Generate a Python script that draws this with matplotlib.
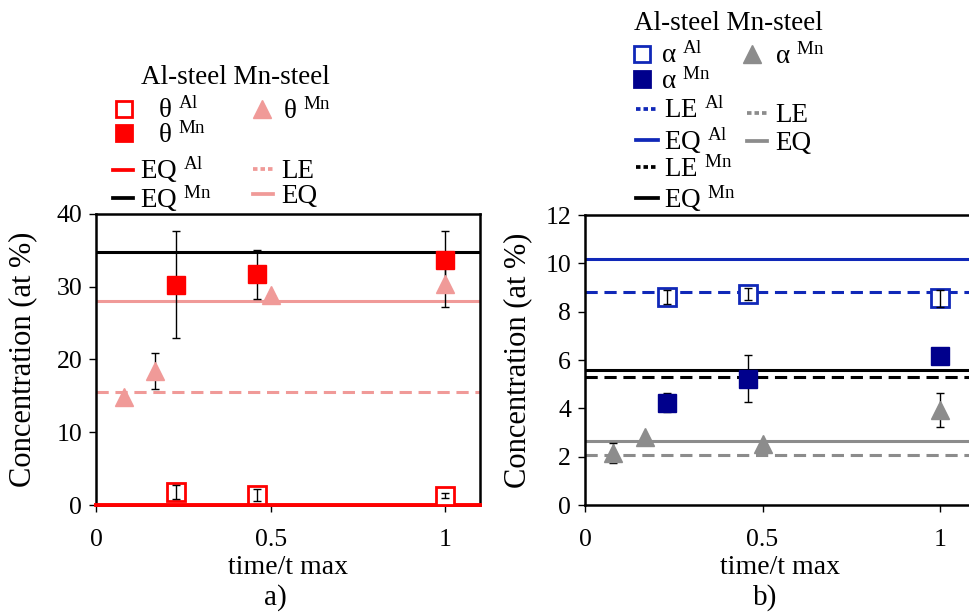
import matplotlib
matplotlib.use("Agg")
import matplotlib.pyplot as plt
from matplotlib.lines import Line2D
import numpy as np

plt.rcParams['font.family'] = ['Liberation Serif', 'DejaVu Serif']
plt.rcParams['mathtext.fontset'] = 'custom'
plt.rcParams['mathtext.rm'] = 'Liberation Serif'
plt.rcParams['mathtext.it'] = 'Liberation Serif:italic'

# ---------------- data: panel a) cementite (theta) ----------------
a_x_al = [0.23, 0.46, 1.0]
a_theta_al = [1.8, 1.4, 1.3]
a_theta_al_err = [1.0, 0.8, 0.3]
a_x_mn_al = [0.23, 0.46, 1.0]
a_theta_mn = [30.3, 31.7, 33.7]
a_theta_mn_err = [7.3, 3.4, 3.9]
a_x_mnsteel = [0.08, 0.17, 0.5, 1.0]
a_theta_mnsteel = [14.8, 18.4, 28.9, 30.4]
a_theta_mnsteel_err = [0.0, 2.5, 0.0, 3.2]
a_eq_al = 0.0
a_eq_mn = 34.8
a_le_mnsteel = 15.5
a_eq_mnsteel = 28.1

# ---------------- data: panel b) ferrite (alpha) ----------------
b_x_al = [0.23, 0.46, 1.0]
b_alpha_al = [8.6, 8.75, 8.55]
b_alpha_al_err = [0.3, 0.25, 0.35]
b_alpha_mn = [4.23, 5.22, 6.15]
b_alpha_mn_err = [0.4, 0.97, 0.0]
b_x_mnsteel = [0.08, 0.17, 0.5, 1.0]
b_alpha_mnsteel = [2.15, 2.8, 2.52, 3.93]
b_alpha_mnsteel_err = [0.4, 0.0, 0.0, 0.7]
b_le_al = 8.8
b_eq_al = 10.17
b_le_mn = 5.31
b_eq_mn = 5.59
b_le_mnsteel = 2.07
b_eq_mnsteel = 2.66

xticks = [0, 0.5, 1]
xticklabels = ['0', '0.5', '1']
a_yticks = [0, 10, 20, 30, 40]
b_yticks = [0, 2, 4, 6, 8, 10, 12]

RED = '#FF0000'
PINK = '#F09A98'
BLUE = '#1028B8'
NAVY = '#00008C'
GREY = '#8C8C8C'
FS_TICK = 18.5
FS_XL = 20
FS_YL = 22
FS_LEG = 19.5
MS = 12.5
LW = 2.2

W, H = 970, 614
fig = plt.figure(figsize=(9.70, 6.14), dpi=100)
axa = fig.add_axes([0.0990, 0.1775, 0.3959, 0.474])
axb = fig.add_axes([0.6031, 0.1775, 0.4026, 0.4723])

def style(ax, ylim, yticks, ylab_x):
    ax.set_xlim(0, 1.1)
    ax.set_ylim(*ylim)
    ax.set_xticks(xticks)
    ax.set_xticklabels(xticklabels)
    ax.set_yticks(yticks)
    ax.tick_params(direction='out', length=5, width=1.0, labelsize=FS_TICK)
    ax.tick_params(axis='x', pad=12)
    ax.tick_params(axis='y', pad=5)
    for s in ax.spines.values():
        s.set_linewidth(1.8)
        s.set_color('black')
    ax.set_xlabel('time/t max', fontsize=FS_XL)
    ax.set_ylabel('Concentration (at %)', fontsize=FS_YL)
    ax.xaxis.set_label_coords(0.5, -0.172)
    ax.yaxis.set_label_coords(ylab_x, 0.5)

style(axa, (0, 40), a_yticks, -0.153)
style(axb, (0, 12), b_yticks, -0.135)

ls_dash = (0, (4, 2.2))
# ---- panel a lines
axa.axhline(a_eq_al, color=RED, lw=LW + 0.6, zorder=3, clip_on=False)
axa.axhline(a_eq_mn, color='black', lw=LW, zorder=2)
axa.axhline(a_le_mnsteel, color=PINK, lw=LW, ls=ls_dash, zorder=2)
axa.axhline(a_eq_mnsteel, color=PINK, lw=LW, zorder=2)

ekw = dict(ecolor='black', elinewidth=1.0, capsize=3, capthick=1.0, ls='none')
axa.plot(a_x_al, a_theta_al, ls='none', marker='s', ms=MS, mfc='white', mec=RED, mew=2, zorder=4, clip_on=False)
axa.errorbar(a_x_al, a_theta_al, yerr=a_theta_al_err, marker='none', zorder=5, **ekw)
axa.errorbar(a_x_mn_al, a_theta_mn, yerr=a_theta_mn_err, marker='none', zorder=3, **ekw)
axa.plot(a_x_mn_al, a_theta_mn, ls='none', marker='s', ms=MS, mfc=RED, mec=RED, zorder=4)
axa.errorbar(a_x_mnsteel, a_theta_mnsteel, yerr=a_theta_mnsteel_err, marker='none', zorder=3, **ekw)
axa.plot(a_x_mnsteel, a_theta_mnsteel, ls='none', marker='^', ms=MS + 1, mfc=PINK, mec=PINK, zorder=4)

# ---- panel b lines
axb.axhline(b_eq_al, color=BLUE, lw=LW, zorder=2)
axb.axhline(b_le_al, color=BLUE, lw=LW, ls=ls_dash, zorder=2)
axb.axhline(b_eq_mn, color='black', lw=LW, zorder=2)
axb.axhline(b_le_mn, color='black', lw=LW, ls=ls_dash, zorder=2)
axb.axhline(b_eq_mnsteel, color=GREY, lw=LW, zorder=2)
axb.axhline(b_le_mnsteel, color=GREY, lw=LW, ls=ls_dash, zorder=2)

axb.plot(b_x_al, b_alpha_al, ls='none', marker='s', ms=MS, mfc='white', mec=BLUE, mew=2, zorder=4)
axb.errorbar(b_x_al, b_alpha_al, yerr=b_alpha_al_err, marker='none', zorder=5, **ekw)
axb.errorbar(b_x_al, b_alpha_mn, yerr=b_alpha_mn_err, marker='none', zorder=3, **ekw)
axb.plot(b_x_al, b_alpha_mn, ls='none', marker='s', ms=MS, mfc=NAVY, mec=NAVY, zorder=4)
axb.errorbar(b_x_mnsteel, b_alpha_mnsteel, yerr=b_alpha_mnsteel_err, marker='none', zorder=3, **ekw)
axb.plot(b_x_mnsteel, b_alpha_mnsteel, ls='none', marker='^', ms=MS + 1, mfc=GREY, mec=GREY, zorder=4)

# ---- legends
def sup(base, s):
    return base + r' $^{\mathrm{' + s + '}}$'

dot = (0, (1.2, 0.8))

def leg(handles, labels, x_px, y_px, hl, pad, spacing):
    fig.legend(handles, labels, loc='upper left', bbox_to_anchor=(x_px / W, 1 - y_px / H),
               frameon=False, fontsize=FS_LEG, borderpad=0, borderaxespad=0,
               handlelength=hl, handletextpad=pad, labelspacing=spacing)

def sq(face, edge):
    return Line2D([], [], ls='none', marker='s', ms=MS - 1, mfc=face, mec=edge, mew=2)

def tri(c):
    return Line2D([], [], ls='none', marker='^', ms=MS + 1, mfc=c, mec=c)

def ln(c, ls='-'):
    return Line2D([], [], color=c, lw=LW + 0.5, ls=ls)

# panel a
fig.text(235 / W, 1 - 78 / H, 'Al-steel Mn-steel', fontsize=FS_LEG, ha='center', va='center')
leg([sq('white', RED), sq(RED, RED)], [sup('θ', 'Al'), sup('θ', 'Mn')], 108, 98, 1.2, 0.65, -0.08)
leg([tri(PINK)], [sup('θ', 'Mn')], 248, 98, 1.0, 0.28, 0.0)
leg([ln(RED), ln('black')], [sup('EQ', 'Al'), sup('EQ', 'Mn')], 113, 155, 0.75, 0.26, -0.08)
leg([ln(PINK, dot), ln(PINK)], ['LE', 'EQ'], 253, 159, 0.75, 0.3, 0.0)

# panel b
fig.text(728 / W, 1 - 23 / H, 'Al-steel Mn-steel', fontsize=FS_LEG, ha='center', va='center')
leg([sq('white', BLUE), sq(NAVY, NAVY)], [sup('α', 'Al'), sup('α', 'Mn')], 628, 43, 1.0, 0.22, -0.05)
leg([tri(GREY)], [sup('α', 'Mn')], 738, 43, 1.0, 0.35, 0.0)
leg([ln(BLUE, dot), ln(BLUE), ln('black', dot), ln('black')],
    [sup('LE', 'Al'), sup('EQ', 'Al'), sup('LE', 'Mn'), sup('EQ', 'Mn')], 636, 98, 0.8, 0.22, 0.03)
leg([ln(GREY, dot), ln(GREY)], ['LE', 'EQ'], 747, 103, 0.75, 0.3, 0.12)

fig.text(275 / W, 1 - 598 / H, 'a)', fontsize=21, ha='center', va='center')
fig.text(765 / W, 1 - 598 / H, 'b)', fontsize=21, ha='center', va='center')

fig.savefig('out.png', dpi=100)
